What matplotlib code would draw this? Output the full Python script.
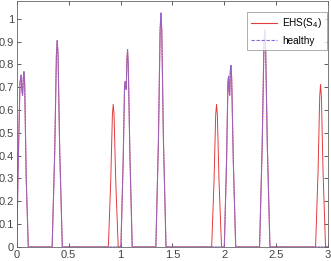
''' EHS (S4) VS HEALTHY HEART SOUND '''

import numpy as np
import matplotlib
matplotlib.use("Agg")
import matplotlib.pyplot as plt

# DATA - vertices
healthy_x = [0.000, 0.010, 0.030, 0.040, 0.050, 0.055, 0.062, 0.068, 0.075, 0.090, 0.110,
             0.340, 0.365, 0.381, 0.389, 0.397, 0.413, 0.438,
             1.003, 1.025, 1.038, 1.044, 1.050, 1.055, 1.061, 1.067, 1.074, 1.090, 1.112,
             1.340, 1.365, 1.381, 1.389, 1.397, 1.413, 1.438,
             2.000, 2.022, 2.035, 2.041, 2.047, 2.052, 2.058, 2.064, 2.071, 2.087, 2.110,
             2.340, 2.365, 2.382, 2.390, 2.398, 2.415, 2.440,
             3.000]
healthy_y = [0.000, 0.300, 0.720, 0.753, 0.680, 0.665, 0.740, 0.768, 0.720, 0.300, 0.000,
             0.000, 0.420, 0.840, 0.905, 0.840, 0.420, 0.000,
             0.000, 0.380, 0.700, 0.725, 0.700, 0.690, 0.820, 0.865, 0.800, 0.400, 0.000,
             0.000, 0.470, 0.950, 1.025, 0.950, 0.470, 0.000,
             0.000, 0.380, 0.720, 0.748, 0.680, 0.665, 0.770, 0.795, 0.740, 0.370, 0.000,
             0.000, 0.440, 0.880, 0.950, 0.880, 0.440, 0.000,
             0.000]

# extra S4 peaks only in the EHS signal
s4_x = [0.882, 0.905, 0.921, 0.929, 0.937, 0.953, 0.977,
        1.878, 1.901, 1.917, 1.925, 1.933, 1.949, 1.973,
        2.880, 2.904, 2.920, 2.928, 2.936, 2.952, 2.976]
s4_y = [0.000, 0.290, 0.580, 0.625, 0.580, 0.290, 0.000,
        0.000, 0.290, 0.580, 0.625, 0.580, 0.290, 0.000,
        0.000, 0.330, 0.660, 0.712, 0.660, 0.330, 0.000]

x_ticks = [0, 0.5, 1, 1.5, 2, 2.5, 3]
y_ticks = [0, 0.1, 0.2, 0.3, 0.4, 0.5, 0.6, 0.7, 0.8, 0.9, 1]

# EHS = healthy + S4 peaks
ehs_x = np.array(healthy_x + s4_x)
ehs_y = np.array(healthy_y + s4_y)
order = np.argsort(ehs_x, kind="stable")
ehs_x, ehs_y = ehs_x[order], ehs_y[order]

# PLOT
plt.rcParams["font.family"] = ["Liberation Sans", "DejaVu Sans"]
fig = plt.figure(figsize=(3.31, 2.61), dpi=100)
ax = fig.add_axes([0.051, 0.054, 0.940, 0.944])

ax.plot(ehs_x, ehs_y, color="#e23c3e", lw=0.7, label="EHS(S$_4$)")
ax.plot(healthy_x, healthy_y, color="#8a68d6", lw=0.8, ls=(0, (2, 0.6)), label="healthy")

ax.set_xlim(0, 3)
ax.set_ylim(0, 1.08)
ax.set_xticks(x_ticks)
ax.set_xticklabels(["0", "0.5", "1", "1.5", "2", "2.5", "3"])
ax.set_yticks(y_ticks)
ax.set_yticklabels(["0", "0.1", "0.2", "0.3", "0.4", "0.5", "0.6", "0.7", "0.8", "0.9", "1"])
ax.tick_params(direction="in", top=True, right=True, length=3, width=0.6,
               labelsize=8, colors="#444444", pad=2)
for s in ax.spines.values():
    s.set_color("#666666")
    s.set_linewidth(0.6)

leg = ax.legend(loc="upper right", bbox_to_anchor=(0.997, 0.955), borderaxespad=0,
                fontsize=7.2, fancybox=False, handlelength=2.6, handletextpad=0.5,
                borderpad=0.45, labelspacing=0.55)
leg.get_lines()[0].set_linewidth(0.8)
leg.get_lines()[1].set_linestyle((0, (3, 1.5)))
leg.get_frame().set_edgecolor("#888888")
leg.get_frame().set_linewidth(0.6)

fig.savefig("out.png", dpi=100)
plt.close()
